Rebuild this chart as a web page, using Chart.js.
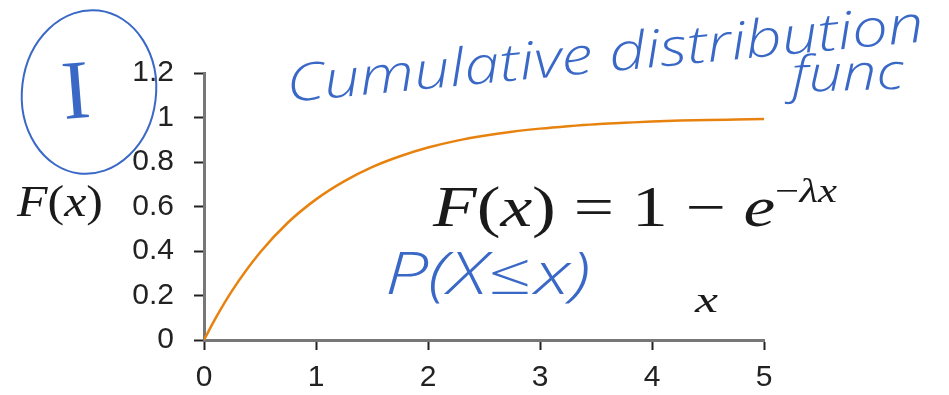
<!DOCTYPE html>
<html>
<head>
<meta charset="utf-8">
<script src="https://cdn.jsdelivr.net/npm/chart.js@4.4.1/dist/chart.umd.min.js"></script>
<style>
  html, body { margin: 0; padding: 0; background: #fff; }
  canvas { display: block; }
</style>
</head>
<body>
<canvas id="cdfChart" width="949" height="395"></canvas>
<script>
// exponential CDF (lambda = 1)
const xValues = [0, 0.1, 0.25, 0.5, 0.75, 1, 1.25, 1.5, 1.75, 2, 2.25, 2.5, 2.75, 3, 3.25, 3.5, 3.75, 4, 4.25, 4.5, 4.75, 5];
const cdfValues = [0, 0.095, 0.221, 0.393, 0.528, 0.632, 0.713, 0.777, 0.826, 0.865, 0.895, 0.918, 0.936, 0.950, 0.961, 0.970, 0.976, 0.982, 0.986, 0.989, 0.991, 0.993];

const xTickLabels = ['0', '1', '2', '3', '4', '5'];
const yTickLabels = ['0', '0.2', '0.4', '0.6', '0.8', '1', '1.2'];

const INK = '#3a68c6';
const TICK_FONT = { family: '"Liberation Sans", Arial, sans-serif', size: 30 };

// draws a run of [text, style] pieces left to right, optionally squeezed to a width
function drawRun(ctx, pieces, x, y, size, targetWidth) {
    const fontFor = (p, s) => (p.italic ? 'italic ' : '') + 'normal ' + s + 'px "Liberation Serif", "DejaVu Serif", serif';
    let total = 0;
    pieces.forEach(p => {
        ctx.font = fontFor(p, p.small ? size * 0.6 : size);
        total += ctx.measureText(p.t).width;
    });
    const sx = targetWidth ? targetWidth / total : 1;
    ctx.save();
    ctx.translate(x, y);
    ctx.scale(sx, 1);
    let cx = 0;
    pieces.forEach(p => {
        const s = p.small ? size * 0.6 : size;
        ctx.font = fontFor(p, s);
        ctx.fillText(p.t, cx, p.small ? -size * 0.42 : 0);
        cx += ctx.measureText(p.t).width;
    });
    ctx.restore();
}

function drawInk(ctx, text, x, y, size, width, angle) {
    ctx.save();
    ctx.translate(x, y);
    ctx.rotate(angle || 0);
    ctx.font = 'italic 300 ' + size + 'px "Open Sans", "Noto Sans", sans-serif';
    const w = ctx.measureText(text).width;
    ctx.scale(width / w, 1);
    ctx.fillStyle = INK;
    ctx.fillText(text, 0, 0);
    ctx.restore();
}

const notes = {
    id: 'notes',
    afterDraw(chart) {
        const ctx = chart.ctx;
        ctx.save();
        ctx.textBaseline = 'alphabetic';
        ctx.textAlign = 'left';
        ctx.fillStyle = '#1a1a1a';

        // y axis label
        drawRun(ctx, [{ t: 'F', italic: true }, { t: '(' }, { t: 'x', italic: true }, { t: ')' }], 17, 216, 44, 86);

        // formula
        drawRun(ctx, [
            { t: 'F', italic: true }, { t: '(' }, { t: 'x', italic: true }, { t: ')' },
            { t: ' = 1 − ' }, { t: 'e', italic: true },
            { t: '−', small: true }, { t: 'λ', italic: true, small: true }, { t: 'x', italic: true, small: true }
        ], 433, 226, 56, 404);

        // x axis label
        drawRun(ctx, [{ t: 'x', italic: true }], 695, 312, 36, 23);

        // handwritten notes
        drawInk(ctx, 'Cumulative distribution', 288, 102, 52, 640, -0.095);
        drawInk(ctx, 'func', 792, 92, 50, 112, -0.03);
        drawInk(ctx, 'P(X≤x)', 385, 294, 58, 205, 0);

        ctx.strokeStyle = INK;
        ctx.lineWidth = 2;
        ctx.beginPath();
        ctx.ellipse(89, 92, 67, 82, 0.12, 0, Math.PI * 2);
        ctx.stroke();
        ctx.fillStyle = INK;
        ctx.font = 'normal 84px "Liberation Serif", serif';
        ctx.textAlign = 'center';
        ctx.save();
        ctx.translate(78, 118);
        ctx.rotate(-0.08);
        ctx.fillText('I', 0, 0);
        ctx.restore();
        ctx.restore();
    }
};

new Chart(document.getElementById('cdfChart').getContext('2d'), {
    type: 'line',
    data: {
        datasets: [{
            data: xValues.map((x, i) => ({ x: x, y: cdfValues[i] })),
            borderColor: '#e8820f',
            borderWidth: 2.5,
            pointRadius: 0,
            fill: false,
            cubicInterpolationMode: 'monotone'
        }]
    },
    options: {
        responsive: false,
        animation: false,
        devicePixelRatio: 1,
        layout: { padding: { top: 73, right: 185, left: 0, bottom: 0 } },
        plugins: {
            legend: { display: false },
            tooltip: { enabled: false }
        },
        scales: {
            x: {
                type: 'linear',
                min: 0,
                max: 5,
                ticks: {
                    stepSize: 1,
                    padding: 10,
                    maxRotation: 0,
                    color: '#222',
                    font: TICK_FONT,
                    callback: (v, i) => xTickLabels[i]
                },
                grid: { drawOnChartArea: false, tickLength: 10, tickColor: '#222', tickWidth: 2 },
                border: { color: '#777', width: 3 },
                afterFit: scale => { scale.height = 55; }
            },
            y: {
                min: 0,
                max: 1.2,
                ticks: {
                    stepSize: 0.2,
                    padding: 20,
                    color: '#222',
                    font: TICK_FONT,
                    callback: (v, i) => yTickLabels[i]
                },
                grid: { drawOnChartArea: false, tickLength: 10, tickColor: '#222', tickWidth: 2 },
                border: { color: '#777', width: 3 },
                afterFit: scale => { scale.width = 204; }
            }
        }
    },
    plugins: [notes]
});
</script>
</body>
</html>
